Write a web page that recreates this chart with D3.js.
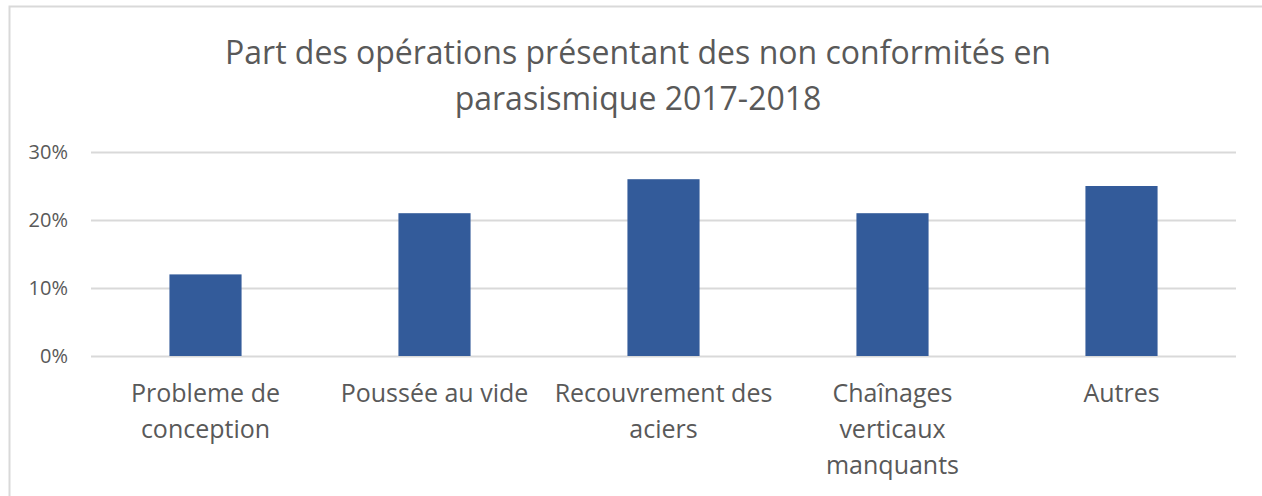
<!DOCTYPE html>
<html>
<head>
<meta charset="utf-8">
<script src="https://cdn.jsdelivr.net/npm/d3@7"></script>
<style>
  body { margin: 0; background: #fff; }
  svg { display: block; font-family: "Open Sans", "Noto Sans", sans-serif; }
  .tick text { fill: #595959; }
</style>
</head>
<body>
<svg width="1262" height="496"></svg>
<script>
// chart data
var titleLines = ["Part des opérations présentant des non conformités en", "parasismique 2017-2018"];
var categories = [
    ["Probleme de", "conception"],
    ["Poussée au vide"],
    ["Recouvrement des", "aciers"],
    ["Chaînages", "verticaux", "manquants"],
    ["Autres"]
];
var values = [0.12, 0.21, 0.26, 0.21, 0.25];
var yTicks = [0, 0.1, 0.2, 0.3];

var svg = d3.select("svg"),
    margin = { top: 152, right: 26, bottom: 140, left: 91 },
    width = +svg.attr("width") - margin.left - margin.right,
    height = +svg.attr("height") - margin.top - margin.bottom;

// outer chart border (only top and left visible in the picture)
svg.append("rect")
    .attr("x", 9.5).attr("y", 6.5)
    .attr("width", 1300).attr("height", 600)
    .attr("fill", "none")
    .attr("stroke", "#d9d9d9")
    .attr("stroke-width", 2);

// title
svg.append("text")
    .attr("text-anchor", "middle")
    .attr("fill", "#595959")
    .style("font-size", "32px")
    .selectAll("tspan")
    .data(titleLines)
    .enter().append("tspan")
    .attr("x", 638)
    .attr("y", function(d, i) { return 64 + i * 46; })
    .text(function(d) { return d; });

var g = svg.append("g")
    .attr("transform", "translate(" + margin.left + "," + margin.top + ")");

var xScale = d3.scaleBand()
    .domain(d3.range(categories.length))
    .range([0, width])
    .paddingInner(0.685)
    .paddingOuter(0.3425);

var yScale = d3.scaleLinear()
    .domain([0, 0.3])
    .range([height, 0]);

// gridlines + y labels
var yAxis = d3.axisLeft(yScale)
    .tickValues(yTicks)
    .tickSize(-width)
    .tickPadding(23)
    .tickFormat(d3.format(".0%"));

var yAxisG = g.append("g").call(yAxis)
    .attr("font-family", null)
    .attr("font-size", null);
yAxisG.select(".domain").remove();
yAxisG.selectAll(".tick line").attr("stroke", "#d9d9d9").attr("stroke-width", 2);
yAxisG.selectAll(".tick text").style("font-size", "20px");

// bars
g.selectAll("rect.bar")
    .data(values)
    .enter().append("rect")
    .attr("class", "bar")
    .attr("x", function(d, i) { return xScale(i); })
    .attr("width", xScale.bandwidth())
    .attr("y", function(d) { return yScale(d); })
    .attr("height", function(d) { return height - yScale(d); })
    .attr("fill", "#335b9a");

// category labels
var labels = g.selectAll("text.cat")
    .data(categories)
    .enter().append("text")
    .attr("class", "cat")
    .attr("text-anchor", "middle")
    .attr("fill", "#595959")
    .style("font-size", "25px");

labels.selectAll("tspan")
    .data(function(d, i) { return d.map(function(t) { return { t: t, i: i }; }); })
    .enter().append("tspan")
    .attr("x", function(d) { return xScale(d.i) + xScale.bandwidth() / 2; })
    .attr("y", function(d, j) { return height + 46 + j * 36; })
    .text(function(d) { return d.t; });
</script>
</body>
</html>
